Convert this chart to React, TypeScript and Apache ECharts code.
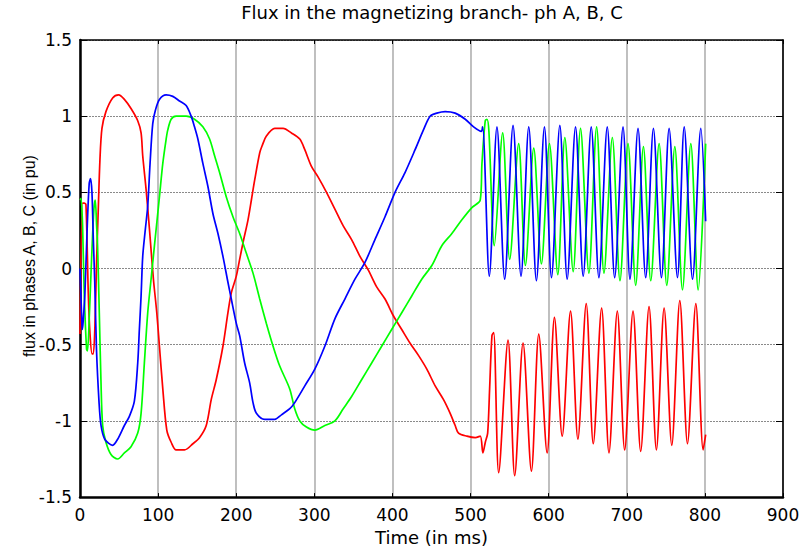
import React, { useEffect, useRef } from "react";
import * as echarts from "echarts";

const chartTitle = "Flux in the magnetizing branch- ph A, B, C";
const xAxisName = "Time (in ms)";
const yAxisName = "flux in phases A, B, C (in pu)";

const xMin = 0;
const xMax = 900;
const xStep = 100;
const yMin = -1.5;
const yMax = 1.5;
const yStep = 0.5;

// [time in ms, flux in pu]
const phaseRed: [number, number][] = [
  [0, -0.43], [3.3, 0.43], [5.4, 0.43], [7.6, 0.42], [10.6, -0.16], [12.7, -0.42], [15.5, -0.56], [17, -0.56],
  [19.1, -0.38], [21.3, 0.06], [23.4, 0.39], [25.5, 0.71], [28.1, 0.92], [33.2, 1.03], [41.8, 1.12], [49.5, 1.14],
  [56.8, 1.11], [65.3, 1.05], [73.9, 0.97], [78.2, 0.89], [80.3, 0.74], [84.6, 0.52], [88.9, 0.26], [94, -0.07],
  [98.3, -0.29], [101.7, -0.51], [106, -0.79], [111.1, -1.06], [116.7, -1.14], [123.1, -1.19], [133.8, -1.19],
  [144.5, -1.15], [153, -1.11], [161.6, -1.03], [168, -0.86], [174.4, -0.73], [183, -0.51], [189.4, -0.29],
  [193.7, -0.16], [200.1, -0.05], [204.4, 0.06], [208.7, 0.17], [215.1, 0.32], [219.4, 0.45], [223.6, 0.58],
  [230.1, 0.76], [233.5, 0.81], [238.6, 0.87], [249.3, 0.92], [260, 0.92], [270.7, 0.89], [281.4, 0.85],
  [287.8, 0.78], [296.3, 0.67], [304.9, 0.6], [315.6, 0.5], [326.3, 0.39], [337, 0.28], [347.7, 0.19],
  [358.4, 0.08], [369.1, -0.01], [379.8, -0.12], [390.5, -0.2], [401.2, -0.31], [411.9, -0.4], [422.6, -0.49],
  [433.3, -0.57], [444, -0.66], [454.7, -0.77], [465.4, -0.86], [473.9, -0.95], [480.3, -1.03], [484.6, -1.08],
  [495.3, -1.1], [506, -1.11], [512.4, -1.1], [515.8, -1.21], [518.9, -1.14], [521.9, -1.08], [524.4, -0.79],
  [527.4, -0.44], [529.6, -0.42], [536, -1.34], [548, -0.47], [556.5, -1.36], [567.2, -0.49], [577.9, -1.33],
  [587.3, -0.43], [598, -1.21], [607.4, -0.32], [617.3, -1.1], [628, -0.28], [637.4, -1.12], [648.1, -0.23],
  [657.1, -1.15], [667.8, -0.26], [677.2, -1.21], [687.9, -0.28], [697.3, -1.19], [708, -0.28], [717.8, -1.2],
  [728.5, -0.25], [737.9, -1.19], [747.8, -0.26], [757.6, -1.16], [767.9, -0.21], [777.7, -1.15], [788.4, -0.23],
  [797.8, -1.19], [801, -1.09],
];

const phaseGreen: [number, number][] = [
  [0, 0.45], [1.3, 0.46], [3.3, 0.28], [5.4, -0.16], [8.4, -0.53], [9.6, -0.54], [11.8, -0.33], [14.8, 0.06],
  [17.8, 0.39], [19.5, 0.45], [21.3, 0.28], [22.5, 0.15], [24.7, -0.29], [26.8, -0.73], [29, -1.03], [33.2, -1.14],
  [39.7, -1.22], [48.2, -1.25], [56.8, -1.21], [65.3, -1.17], [73.9, -1.08], [78.2, -0.95], [82.4, -0.62],
  [86.7, -0.29], [91, -0.07], [95.3, 0.15], [101.7, 0.47], [106, 0.69], [110.3, 0.85], [112.4, 0.91],
  [116.7, 0.98], [123.1, 1.0], [135.9, 1.0], [146.6, 0.98], [157.3, 0.93], [165.9, 0.85], [172.3, 0.74],
  [178.7, 0.63], [187.3, 0.47], [195.8, 0.34], [204.4, 0.23], [213, 0.1], [221.5, -0.03], [230.1, -0.2],
  [238.6, -0.36], [247.2, -0.51], [255.7, -0.64], [268.5, -0.79], [274.9, -0.92], [281.4, -1.0], [289.9, -1.04],
  [300.6, -1.06], [313.4, -1.03], [326.3, -1.0], [337, -0.92], [347.7, -0.84], [360.5, -0.73], [373.4, -0.62],
  [386.2, -0.51], [399, -0.4], [411.9, -0.29], [424.7, -0.18], [437.5, -0.07], [450.4, 0.02], [463.2, 0.15],
  [476.1, 0.23], [488.9, 0.32], [501.7, 0.4], [512.4, 0.45], [514.6, 0.69], [518.8, 0.97], [521, 0.98],
  [523.5, 0.9], [530.4, 0.15], [541.1, 0.89], [550.1, 0.06], [561.6, 0.82], [570.2, 0.02], [580.9, 0.79],
  [590.7, 0.03], [601, 0.82], [611.7, -0.04], [620.7, 0.86], [631.4, -0.02], [640.8, 0.92], [651.5, -0.03],
  [661.4, 0.93], [670.8, -0.03], [681.5, 0.86], [691.3, -0.08], [701.6, 0.82], [711.4, -0.11], [721.3, 0.8],
  [730.7, -0.08], [741.4, 0.82], [751.2, -0.11], [761.5, 0.8], [771.3, -0.14], [782, 0.82], [791.4, -0.14],
  [801, 0.82],
];

const phaseBlue: [number, number][] = [
  [0, 0], [2, -0.3], [2.9, -0.4], [4, -0.35], [6.3, -0.16], [9.3, 0.28], [11.8, 0.56], [13.5, 0.59], [15.3, 0.5],
  [17, 0.2], [18.9, -0.09], [21.1, -0.53], [24.4, -0.88], [26.9, -1.03], [31.7, -1.12], [41.8, -1.16],
  [48.2, -1.12], [56.8, -1.03], [63.2, -0.97], [69.6, -0.87], [73.9, -0.62], [76, -0.4], [78.2, -0.18],
  [80.3, 0.08], [83.7, 0.26], [86.7, 0.41], [89.7, 0.69], [93.1, 0.95], [96.6, 1.04], [101.7, 1.11],
  [110.3, 1.14], [118.8, 1.13], [127.4, 1.1], [135.9, 1.07], [142.3, 1.0], [146.6, 0.93], [150.9, 0.85],
  [157.3, 0.69], [163.7, 0.54], [170.2, 0.36], [176.6, 0.23], [183, 0.08], [189.4, -0.09], [193.7, -0.2],
  [200.1, -0.36], [204.4, -0.44], [210.8, -0.62], [217.2, -0.75], [221.5, -0.88], [225.8, -0.95],
  [236.5, -0.99], [249.3, -0.99], [257.9, -0.96], [268.6, -0.92], [274.9, -0.88], [287.8, -0.77],
  [300.6, -0.66], [313.4, -0.51], [326.3, -0.33], [339.1, -0.2], [352, -0.07], [364.8, 0.04], [377.6, 0.19],
  [390.5, 0.34], [403.3, 0.5], [416.1, 0.63], [429, 0.78], [439.7, 0.91], [448.2, 1.0], [456.8, 1.02],
  [467.5, 1.03], [480.3, 1.02], [493.2, 0.98], [503.9, 0.93], [513.7, 0.9], [515.4, 0.93], [524, -0.05],
  [533.8, 0.93], [543.7, -0.07], [554.4, 0.94], [564.6, -0.05], [574.5, 0.93], [584.3, -0.08], [594.6, 0.93],
  [603.6, -0.06], [614.3, 0.94], [623.7, -0.07], [634.4, 0.93], [644.2, -0.05], [654.5, 0.93], [664.3, -0.06],
  [675, 0.93], [684.5, -0.06], [695.2, 0.93], [704.1, -0.07], [714.4, 0.92], [724.2, -0.06], [734.1, 0.92],
  [744.4, -0.06], [754.2, 0.92], [764.9, -0.06], [773.5, 0.93], [784.2, -0.07], [794.8, 0.92], [801, 0.31],
];

const wideFont = "DejaVu Sans";
const narrowFont = "Liberation Sans, Arial, sans-serif";

export default function App() {
  const ref = useRef<HTMLDivElement>(null);

  useEffect(() => {
    if (!ref.current) return;
    const chart = echarts.init(ref.current, null, { renderer: "svg" });
    const tickStyle = { color: "#000", width: 1 };
    const mkSeries = (name: string, data: [number, number][], color: string) => ({
      name,
      type: "line",
      data,
      showSymbol: false,
      symbol: "none",
      smooth: 0.3,
      lineStyle: { color, width: 1.7 },
      itemStyle: { color },
      clip: true,
    });
    chart.setOption({
      animation: false,
      backgroundColor: "#ffffff",
      title: {
        text: chartTitle,
        left: 432,
        top: 3,
        textAlign: "center",
        padding: 0,
        textStyle: { fontFamily: wideFont, fontSize: 18, fontWeight: "normal", color: "#000" },
      },
      grid: { left: 80, right: 20, top: 40, bottom: 52, containLabel: false },
      xAxis: [
        {
          type: "value",
          min: xMin,
          max: xMax,
          interval: xStep,
          position: "bottom",
          name: xAxisName,
          nameLocation: "middle",
          nameGap: 28,
          nameTextStyle: { fontFamily: wideFont, fontSize: 18, color: "#000" },
          axisLine: { show: true, onZero: false, lineStyle: { color: "#000", width: 2.5 } },
          axisTick: { show: true, inside: true, length: 4, lineStyle: tickStyle },
          axisLabel: { margin: 9, fontFamily: wideFont, fontSize: 17, color: "#000" },
          splitLine: { show: true, lineStyle: { color: "#b0b0b0", width: 1.6, type: "solid" } },
        },
        {
          type: "value",
          min: xMin,
          max: xMax,
          interval: xStep,
          position: "top",
          axisLine: { show: true, onZero: false, lineStyle: { color: "#000", width: 1.6 } },
          axisTick: { show: true, inside: true, length: 4, lineStyle: tickStyle },
          axisLabel: { show: false },
          splitLine: { show: false },
        },
      ],
      yAxis: [
        {
          type: "value",
          min: yMin,
          max: yMax,
          interval: yStep,
          position: "left",
          axisLine: { show: true, onZero: false, lineStyle: { color: "#000", width: 2.5 } },
          axisTick: { show: true, inside: true, length: 7, lineStyle: tickStyle },
          axisLabel: { margin: 8, fontFamily: wideFont, fontSize: 17, color: "#000" },
          splitLine: { show: true, lineStyle: { color: "#8a8a8a", width: 1, type: [2, 1] } },
        },
        {
          type: "value",
          min: yMin,
          max: yMax,
          interval: yStep,
          position: "right",
          axisLine: { show: true, onZero: false, lineStyle: { color: "#000", width: 1.6 } },
          axisTick: { show: true, inside: true, length: 7, lineStyle: tickStyle },
          axisLabel: { show: false },
          splitLine: { show: false },
        },
      ],
      graphic: [
        {
          type: "text",
          x: 29,
          y: 256,
          rotation: Math.PI / 2,
          style: {
            text: yAxisName,
            fontFamily: narrowFont,
            fontSize: 16,
            fill: "#000",
            textAlign: "center",
            textVerticalAlign: "middle",
          },
        },
      ],
      series: [
        mkSeries("ph A", phaseRed, "#ff0000"),
        mkSeries("ph B", phaseGreen, "#00ff00"),
        mkSeries("ph C", phaseBlue, "#0000ff"),
      ],
    });
    return () => chart.dispose();
  }, []);

  return (
    <div
      ref={ref}
      style={{ position: "absolute", left: 0, top: 0, width: 803, height: 551, background: "#fff" }}
    />
  );
}
